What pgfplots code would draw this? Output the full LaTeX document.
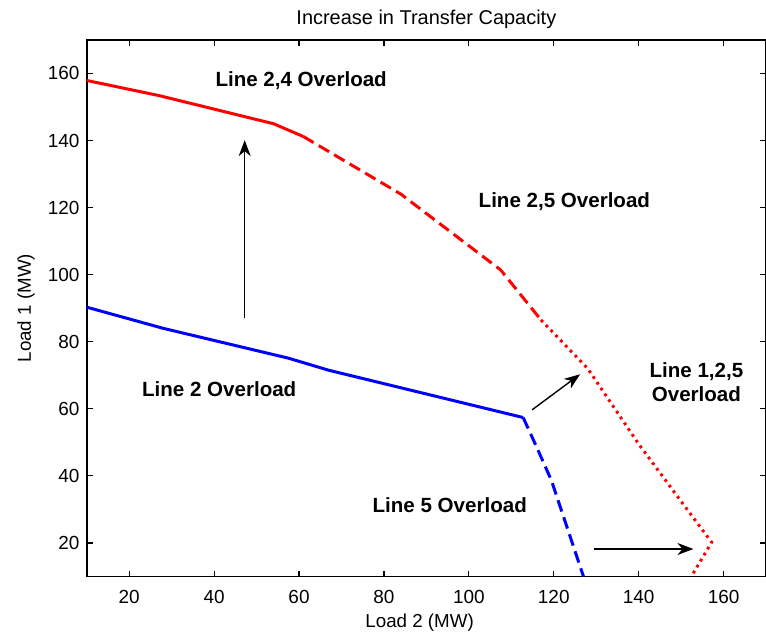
\documentclass[border=0pt]{standalone}
\usepackage{pgfplots}
\pgfplotsset{compat=1.18}
\usepackage{fontspec}
\setmainfont{Liberation Sans}
\usetikzlibrary{arrows.meta}
\begin{document}
\begin{tikzpicture}
\begin{axis}[
  scale only axis,
  width=340.5pt, height=269pt,
  xmin=10, xmax=170, ymin=10, ymax=170,
  xtick={20,40,...,160}, ytick={20,40,...,160},
  tick align=inside,
  major tick length=3pt,
  axis line style={line width=1pt},
  tick style={black, line width=0.6pt},
  tick label style={font=\fontsize{9.5}{11}\selectfont},
  /pgf/number format/assume math mode=true,
  xticklabel style={anchor=north, yshift=-6.5pt, inner sep=0pt},
  yticklabel style={anchor=east, xshift=-3.5pt, inner sep=0pt},
  title={Increase in Transfer Capacity},
  title style={font=\fontsize{10}{12}\selectfont, at={(0.5,1)}, anchor=base, yshift=1.5pt},
  xlabel={Load 2 (MW)},
  ylabel={Load 1 (MW)},
  xlabel style={font=\fontsize{9.4}{11}\selectfont, at={(axis description cs:0.49,-0.0948)}, anchor=base},
  ylabel style={font=\fontsize{9.4}{11}\selectfont, at={(axis description cs:-0.0822,0.5)}, anchor=base},
  clip=false,
]
\coordinate (sw) at (rel axis cs:0,0);
\coordinate (ne) at (rel axis cs:1,1);
% red solid
\addplot[red, line width=1.5pt] coordinates {(10,157.9) (27,153.4) (54,145) (61,141.2)};
% red dashed
\addplot[red, line width=1.5pt, dash pattern=on 6pt off 3pt] coordinates {(61,141.2) (84,124) (107.5,101.4) (117,86.5)};
% red dotted
\addplot[red, line width=1.5pt, dash pattern=on 1.4pt off 2.1pt] coordinates {(117,86.5) (128,72) (140,49.5) (149.3,33.6) (157.2,20.2) (152.4,10)};
% blue solid
\addplot[blue, line width=1.5pt] coordinates {(10,90.3) (28,84) (57.5,75.1) (67,71.5) (112.8,57.4)};
% blue dashed
\addplot[blue, line width=1.5pt, dash pattern=on 6pt off 3pt] coordinates {(112.8,57.4) (116,48.5) (119.5,38.5) (127,10)};
% arrows
\addplot[black, line width=0.7pt, -{Stealth[length=8pt,width=6pt,inset=2.5pt]}] coordinates {(47.2,87) (47.2,140.1)};
\addplot[black, line width=0.7pt, -{Stealth[length=8pt,width=6pt,inset=2.5pt]}] coordinates {(114.9,59.7) (126.2,70.3)};
\addplot[black, line width=0.7pt, -{Stealth[length=8pt,width=6pt,inset=2.5pt]}] coordinates {(129.4,18.2) (152.9,18.2)};
% labels
\node[font=\fontsize{10.3}{12}\selectfont\bfseries] at (axis cs:60.5,157.8) {Line 2,4 Overload};
\node[font=\fontsize{10.3}{12}\selectfont\bfseries] at (axis cs:122.5,121.8) {Line 2,5 Overload};
\node[font=\fontsize{10.3}{12}\selectfont\bfseries, align=center] at (axis cs:153.6,68.0) {Line 1,2,5\\Overload};
\node[font=\fontsize{10.3}{12}\selectfont\bfseries] at (axis cs:41.2,66.0) {Line 2 Overload};
\node[font=\fontsize{10.3}{12}\selectfont\bfseries] at (axis cs:95.5,31.2) {Line 5 Overload};
\end{axis}
\pgfresetboundingbox
\path ([xshift=-43.5pt,yshift=-29.5pt]sw) rectangle ([yshift=20pt]ne);
\end{tikzpicture}
\end{document}
